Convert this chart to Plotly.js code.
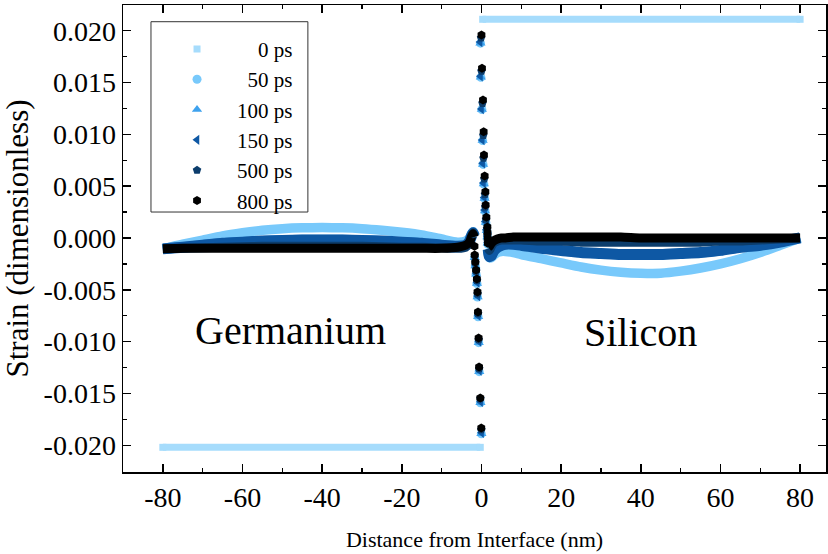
<!DOCTYPE html>
<html>
<head>
<meta charset="utf-8">
<script src="https://cdn.plot.ly/plotly-3.0.1.min.js"></script>
<style>html,body{margin:0;padding:0;background:#fff;}#chart{width:828px;height:554px;}</style>
</head>
<body>
<div id="chart"></div>
<script>
// ---------- data ----------
const seriesNames = ['\u00a0\u00a0\u00a0\u00a00 ps', '\u00a0\u00a050 ps', '100 ps', '150 ps', '500 ps', '800 ps'];

// 0 ps: step profile
const s0_x = [-80, -0.3, null, 0.3, 80];
const s0_y = [-0.0202, -0.0202, null, 0.0211, 0.0211];

// bulk grids
const ge_x = [-80, -75, -70, -65, -60, -55, -50, -45, -40, -35, -30, -25, -20, -15, -10, -6, -4, -3, -2.5, -2.1, -1.8];
const si_x = [1.7, 2, 2.5, 3, 4, 5, 6, 8, 10, 15, 20, 25, 30, 35, 40, 45, 50, 55, 60, 65, 70, 75, 80];

const s50_ge  = [-0.00105, -0.0006, -0.0002, 0.0002, 0.0005, 0.00075, 0.0009, 0.00098, 0.001, 0.00098, 0.0009, 0.00075, 0.00055, 0.0003, -0.0001, -0.0004, -0.0003, 0.0, 0.0004, 0.0006, 0.0002];
const s100_ge = [-0.00105, -0.0009, -0.00068, -0.00048, -0.00038, -0.00028, -0.00022, -0.00018, -0.00018, -0.00018, -0.00022, -0.00028, -0.00038, -0.00048, -0.00068, -0.00078, -0.00068, -0.00028, 0.0002, 0.0005, 0.0002];
const s150_ge = [-0.00105, -0.0009, -0.0007, -0.0005, -0.0004, -0.0003, -0.00025, -0.0002, -0.0002, -0.0002, -0.00025, -0.0003, -0.0004, -0.0005, -0.0007, -0.0008, -0.0007, -0.0003, 0.0002, 0.0005, 0.0002];
const s500_ge = [-0.00105, -0.001, -0.00095, -0.0009, -0.00085, -0.0008, -0.0008, -0.0008, -0.0008, -0.0008, -0.0008, -0.00085, -0.0009, -0.0009, -0.00095, -0.001, -0.0009, -0.0004, 0.0002, 0.0005, 0.0002];
const s800_ge = [-0.00105, -0.001, -0.001, -0.001, -0.001, -0.001, -0.001, -0.001, -0.001, -0.001, -0.001, -0.001, -0.001, -0.001, -0.001, -0.0009, -0.0007, -0.0004, 0.0001, 0.0004, 0.0001];

const s50_si  = [-0.0012, -0.0019, -0.0019, -0.0017, -0.0014, -0.0013, -0.0013, -0.0014, -0.0016, -0.002, -0.0024, -0.0028, -0.0031, -0.0033, -0.0034, -0.0034, -0.0032, -0.0029, -0.0025, -0.002, -0.0014, -0.0007, 0.0];
const s100_si = [-0.0011, -0.0018, -0.0017, -0.0013, -0.0009, -0.0007, -0.0006, -0.0006, -0.0007, -0.001, -0.0012, -0.0014, -0.0015, -0.0016, -0.0016, -0.0016, -0.0015, -0.0014, -0.0012, -0.0009, -0.0007, -0.0004, 0.0];
const s150_si = [-0.0011, -0.0018, -0.0017, -0.0013, -0.0009, -0.0007, -0.0006, -0.0006, -0.0007, -0.001, -0.0012, -0.0014, -0.0015, -0.0016, -0.0016, -0.0016, -0.0015, -0.0014, -0.0012, -0.0009, -0.0007, -0.0004, 0.0];
const s500_si = [-0.001, -0.0012, -0.0008, -0.0005, -0.0003, -0.0002, -0.0002, -0.0002, -0.0002, -0.0003, -0.0003, -0.0004, -0.0004, -0.0004, -0.0004, -0.0004, -0.0004, -0.0004, -0.0003, -0.0003, -0.0002, -0.0001, 0.0];
const s800_si = [-0.0009, -0.0008, -0.0005, -0.0003, -0.0001, 0.0, 0.0, 0.0001, 0.0001, 0.0001, 0.0001, 0.0001, 0.0001, 0.0001, 0.0, 0.0, 0.0, 0.0, 0.0, 0.0, 0.0, 0.0, 0.0];

// interface points (individual markers)
const sp50_x  = [-1.7, -1.54, -1.34, -1.14, -0.99, -0.86, -0.7, -0.58, -0.28, -0.04, -0.25, -0.15, 0.1, 0.3, 0.4, 0.6, 0.8, 0.9, 1.1, 1.35, 1.5, 1.6];
const sp50_y  = [-0.0019, -0.0027, -0.0035, -0.0044, -0.0057, -0.0076, -0.0101, -0.0129, -0.0159, -0.0189, 0.0188, 0.0155, 0.0124, 0.0094, 0.0071, 0.0052, 0.0038, 0.0026, 0.0015, 0.0007, 0.0001, -0.0006];
const sp100_x = [-1.68, -1.52, -1.32, -1.12, -0.97, -0.84, -0.68, -0.56, -0.26, -0.02, -0.25, -0.15, 0.1, 0.3, 0.4, 0.6, 0.8, 0.9, 1.1, 1.35, 1.5, 1.6];
const sp100_y = [-0.0019, -0.0027, -0.0035, -0.0044, -0.0057, -0.0076, -0.0101, -0.0129, -0.0159, -0.0189, 0.0188, 0.0155, 0.0124, 0.0094, 0.0071, 0.0052, 0.0038, 0.0026, 0.0015, 0.0007, 0.0001, -0.0005];
const sp150_x = [-1.65, -1.48, -1.28, -1.08, -0.93, -0.8, -0.64, -0.52, -0.22, 0.02, -0.35, -0.25, 0.0, 0.2, 0.3, 0.5, 0.7, 0.8, 1.0, 1.25, 1.45, 1.55];
const sp150_y = [-0.0018, -0.0026, -0.0034, -0.0043, -0.0056, -0.0075, -0.01, -0.0128, -0.0158, -0.0188, 0.0189, 0.0156, 0.01245, 0.00945, 0.0072, 0.0053, 0.0039, 0.0027, 0.0016, 0.0008, 0.0002, -0.0004];
const sp500_x = [-1.68, -1.52, -1.32, -1.12, -0.97, -0.85, -0.69, -0.57, -0.27, -0.03, -0.1, 0.0, 0.25, 0.45, 0.5, 0.7, 0.88, 0.95, 1.15, 1.4, 1.5, 1.58];
const sp500_y = [-0.0017, -0.0024, -0.0032, -0.0041, -0.0054, -0.0073, -0.0098, -0.0126, -0.0155, -0.0185, 0.0193, 0.0161, 0.013, 0.0099, 0.0077, 0.0057, 0.0042, 0.003, 0.0018, 0.0009, 0.0003, -0.0003];
const sp800_x = [-1.75, -1.71, -1.55, -1.35, -1.15, -1.0, -0.88, -0.72, -0.6, -0.3, -0.05, 0.0, 0.13, 0.38, 0.55, 0.63, 0.8, 0.98, 1.05, 1.23, 1.48, 1.52, 1.56, 1.6];
const sp800_y = [-0.0008, -0.00164, -0.00232, -0.00309, -0.00396, -0.00521, -0.00714, -0.00965, -0.01245, -0.01544, -0.01833, 0.01959, 0.01637, 0.01331, 0.01026, 0.00801, 0.00598, 0.00447, 0.00318, 0.002, 0.00106, 0.0005, 0.0, -0.0005];

// axis ticks
const xTickVals = [-80, -60, -40, -20, 0, 20, 40, 60, 80];
const xTickText = ['-80', '-60', '-40', '-20', '0', '20', '40', '60', '80'];
const yTickVals = [0.02, 0.015, 0.01, 0.005, 0, -0.005, -0.01, -0.015, -0.02];
const yTickText = ['0.020', '0.015', '0.010', '0.005', '0.000', '-0.005', '-0.010', '-0.015', '-0.020'];

// ---------- styles ----------
const colors = ['#a6dcfc', '#78c9fb', '#3ea2ee', '#0e58a4', '#0c3d6c', '#000000'];
const symbols = ['square', 'circle', 'triangle-up', 'triangle-left', 'pentagon', 'hexagon'];
const widths = [7, 9.5, 10, 11, 9, 9];
const FONT = 'Liberation Serif';

const bulk = [
  null,
  [s50_ge, s50_si], [s100_ge, s100_si], [s150_ge, s150_si], [s500_ge, s500_si], [s800_ge, s800_si]
];
const spikes = [null, [sp50_x, sp50_y], [sp100_x, sp100_y], [sp150_x, sp150_y], [sp500_x, sp500_y], [sp800_x, sp800_y]];

const traces = [];
// 0 ps
traces.push({x: s0_x, y: s0_y, mode: 'lines', line: {color: colors[0], width: widths[0]}, showlegend: false, hoverinfo: 'skip', connectgaps: false});
traces.push({x: s0_x, y: s0_y, mode: 'markers', name: seriesNames[0], marker: {symbol: symbols[0], size: 7, color: colors[0]}});

for (let i = 1; i < 6; i++) {
  const [g, s] = bulk[i];
  traces.push({x: ge_x, y: g, mode: 'lines', line: {color: colors[i], width: widths[i], shape: 'spline', smoothing: 0.6}, showlegend: false, hoverinfo: 'skip'});
  traces.push({x: si_x, y: s, mode: 'lines', line: {color: colors[i], width: widths[i], shape: 'spline', smoothing: 0.6}, showlegend: false, hoverinfo: 'skip'});
  traces.push({x: spikes[i][0], y: spikes[i][1], mode: 'markers', name: seriesNames[i],
    marker: {symbol: symbols[i], size: 9, color: colors[i], line: {width: 0}}});
}

const axisCommon = {
  showline: true, linecolor: '#000', linewidth: 1.5, mirror: 'allticks',
  ticks: 'inside', ticklen: 8, tickwidth: 1.5, tickcolor: '#000',
  showgrid: false, zeroline: false,
  tickfont: {family: FONT, size: 28, color: '#000'},
  tickmode: 'array'
};

const layout = {
  width: 828, height: 554,
  margin: {l: 123, r: 2, t: 5, b: 82},
  paper_bgcolor: '#fff', plot_bgcolor: '#fff',
  font: {family: FONT, color: '#000'},
  showlegend: true,
  xaxis: Object.assign({}, axisCommon, {
    range: [-90, 86.5], tickvals: xTickVals, ticktext: xTickText,
    minor: {tick0: 0, dtick: 10, ticks: 'inside', ticklen: 4, tickwidth: 1.5, tickcolor: '#000', showgrid: false},
    title: {text: 'Distance from Interface (nm)', font: {family: FONT, size: 22, color: '#000'}, standoff: 19}
  }),
  yaxis: Object.assign({}, axisCommon, {
    range: [-0.02258, 0.02248], tickvals: yTickVals, ticktext: yTickText,
    minor: {tick0: 0, dtick: 0.0025, ticks: 'inside', ticklen: 4, tickwidth: 1.5, tickcolor: '#000', showgrid: false},
    title: {text: 'Strain (dimensionless)', font: {family: FONT, size: 31, color: '#000'}, standoff: 5}
  }),
  legend: {
    x: 0.0484, y: 0.949, xanchor: 'left', yanchor: 'top',
    bgcolor: 'rgba(0,0,0,0)', borderwidth: 0,
    font: {family: FONT, size: 21, color: '#000'},
    itemwidth: 70
  },
  shapes: [{
    type: 'rect', xref: 'paper', yref: 'paper',
    x0: 0.0398, x1: 0.263, y0: 0.5567, y1: 0.9642,
    line: {color: '#333', width: 1}, fillcolor: 'rgba(0,0,0,0)', layer: 'above'
  }],
  annotations: [
    {x: -48, y: -0.0089, xref: 'x', yref: 'y', text: 'Germanium', showarrow: false, font: {family: FONT, size: 40, color: '#000'}},
    {x: 40, y: -0.0091, xref: 'x', yref: 'y', text: 'Silicon', showarrow: false, font: {family: FONT, size: 40, color: '#000'}}
  ]
};

Plotly.newPlot('chart', traces, layout, {staticPlot: true, displayModeBar: false});
</script>
</body>
</html>
